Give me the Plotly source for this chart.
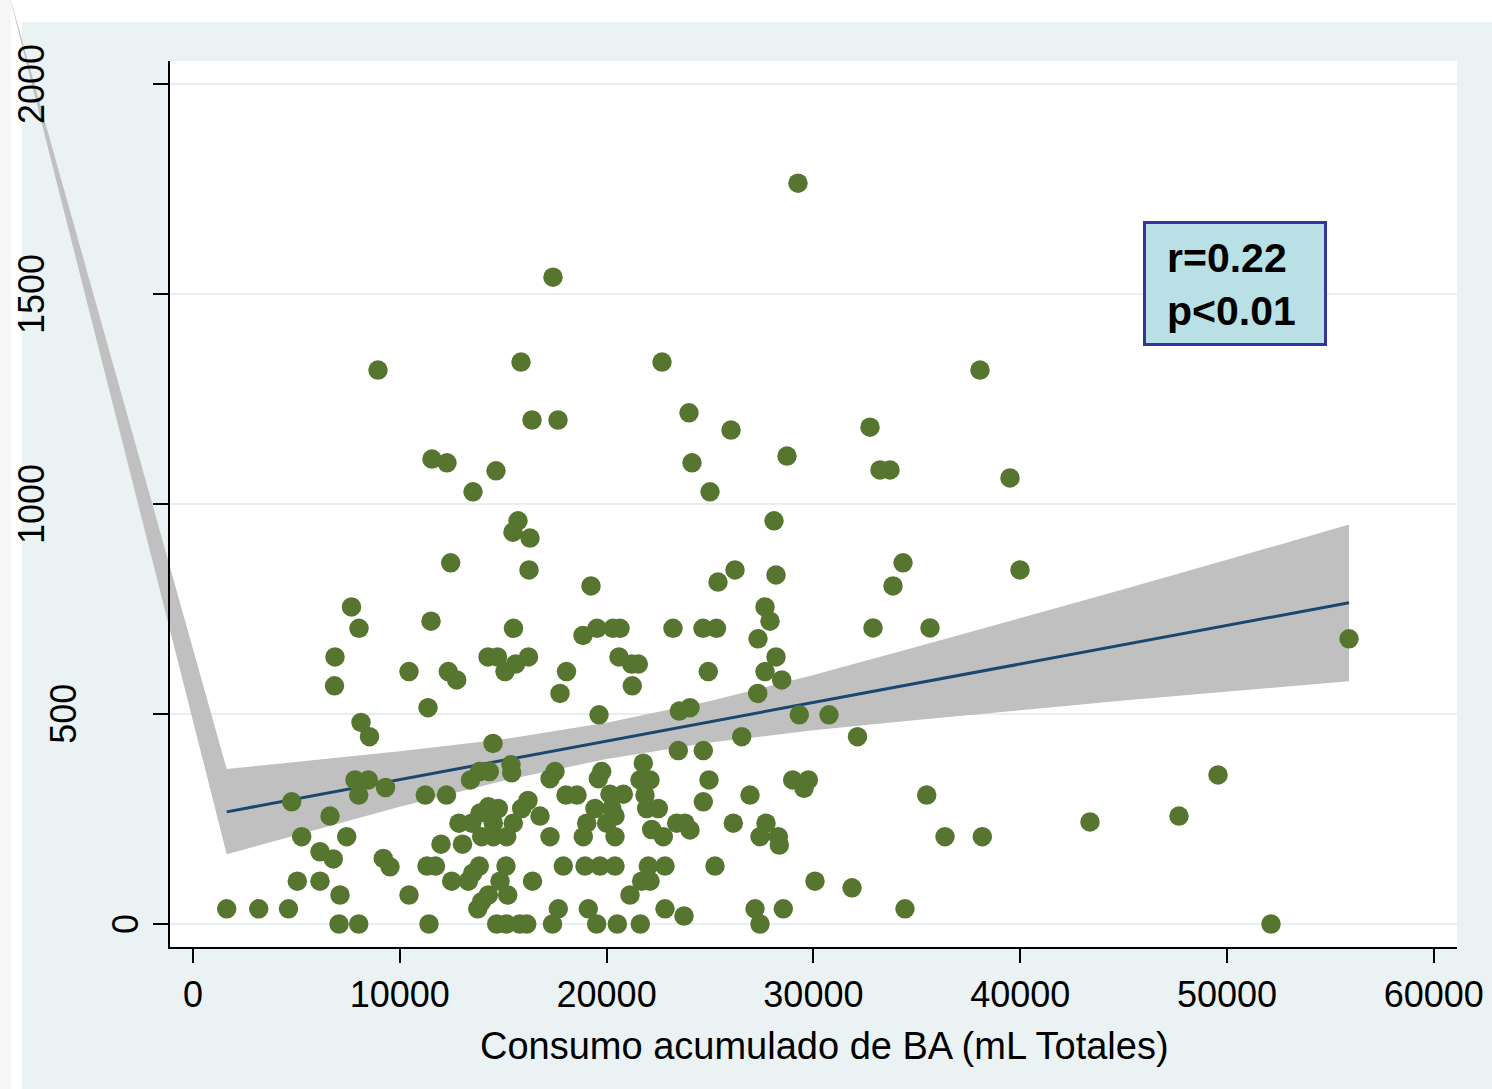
import plotly.graph_objects as go

# ---------------- data ----------------
consumo_ml = [
    29255, 17408, 8946, 15861, 22679, 38056, 23985, 16393, 17650, 32737,
    26016, 28723, 11557, 12282, 24130, 33221, 33704, 14652, 39507, 13540,
    25000, 15716, 28095, 15474, 16296,
    12461, 34333, 39990, 16248, 26209, 28192, 25387, 19246, 33849, 7664,
    27660, 11509, 27901, 8027, 15498, 19536, 20310, 20648, 23211, 24662,
    25314, 32882, 35638, 18859, 27321, 55900, 6867, 14265, 14724, 16223,
    20600, 28192,
    15595, 21214, 21533, 10445, 12345, 15087, 18061, 24918, 27660, 12751,
    28467, 6842, 21243, 17747, 27307, 11364, 24033, 23516, 19633, 29318,
    30754, 8124, 8535, 26533, 32133, 14507, 23467, 24676,
    15377, 21775, 13854, 14328, 15411, 17505, 19763, 49565, 7834, 8477,
    13419, 17263, 19599, 21615, 22099, 24952, 28999, 29753, 9309, 29546,
    8013, 11233, 12258, 18037, 18569, 20164, 20808, 21857, 26934, 35479,
    4773, 16199, 24676, 14280, 14763, 15895, 19439, 20247, 21939, 22500,
    13878, 6625, 16780, 20406, 47679, 12863, 13477, 14521, 15488, 19038,
    20005, 23390, 23791, 26127, 27708, 43375, 22181, 24033, 5256, 7432,
    13960, 14521, 15169, 17263, 18873, 20406, 22742, 27418, 28303, 36364,
    38167, 11992, 13032, 28351, 6141, 6784, 9202,
    9526, 11315, 11726, 13844, 15135, 17906, 18956, 19681, 20406, 22017,
    22824, 25242, 13525, 5044, 6141, 12510, 13312, 14845, 16417, 21697,
    22099, 30077, 31867, 7108, 10445, 14280, 15218, 21132, 13960, 1630,
    3177, 4618, 13772, 17665, 19115, 22824, 27176, 28545, 34429, 23743,
    7060, 8013, 11412, 14686, 15150, 15798, 16136, 17384, 19521, 20518,
    21630, 27418, 52128,
]
valor = [
    1764, 1540, 1319, 1338, 1338, 1319, 1217, 1200, 1200, 1183,
    1176, 1114, 1107, 1098, 1098, 1081, 1081, 1079, 1062, 1029,
    1029, 960, 960, 933, 919,
    860, 860, 843, 843, 843, 831, 814, 805, 805, 755,
    755, 721, 721, 704, 704, 704, 704, 704, 704, 704,
    704, 705, 705, 687, 679, 679, 636, 636, 636, 636,
    636, 636,
    619, 619, 619, 601, 601, 601, 601, 601, 601, 581,
    581, 567, 567, 549, 549, 515, 515, 507, 498, 498,
    498, 480, 446, 446, 446, 430, 413, 413,
    379, 383, 363, 363, 360, 363, 363, 355, 343, 343,
    343, 346, 346, 343, 343, 343, 343, 343, 325, 323,
    307, 307, 307, 307, 307, 309, 309, 307, 307, 307,
    291, 294, 291, 279, 275, 275, 275, 275, 275, 275,
    264, 257, 257, 257, 257, 240, 240, 240, 240, 240,
    240, 240, 240, 240, 240, 243, 225, 224, 208, 208,
    208, 208, 208, 208, 208, 208, 208, 208, 208, 208,
    208, 190, 190, 188, 172, 155, 156,
    136, 138, 138, 138, 138, 138, 138, 138, 138, 138,
    138, 138, 121, 102, 102, 102, 102, 102, 102, 102,
    102, 102, 86, 69, 69, 69, 69, 69, 53, 36,
    36, 36, 36, 36, 36, 36, 36, 36, 36, 19,
    0, 0, 0, 0, 0, 0, 0, 0, 0, 0,
    0, 0, 0,
]

# linear fit line
fit_x = [1630, 55900]
fit_y = [267, 765]

# confidence band of the fit
ci_x = [1630, 5000, 10000, 15000, 20000, 25000, 30000, 35000, 40000, 45000, 50000, 55900]
ci_upper = [369, 386, 411, 440, 479, 531, 593, 660, 728, 797, 867, 951]
ci_lower = [166, 212, 279, 341, 393, 432, 461, 486, 509, 532, 553, 578]
# stray vertex of the band polygon (drawing artifact visible in the source graph)
ci_stray_x = -8946
ci_stray_y = 2224

x_ticks = [0, 10000, 20000, 30000, 40000, 50000, 60000]
x_tick_labels = ["0", "10000", "20000", "30000", "40000", "50000", "60000"]
y_ticks = [0, 500, 1000, 1500, 2000]
y_tick_labels = ["0", "500", "1000", "1500", "2000"]

x_title = "Consumo acumulado de BA (mL Totales)"
stat_text = "<b>r=0.22</b><br><b>p&lt;0.01</b>"

# ---------------- layout geometry ----------------
W, H = 1492, 1089
FONT = "Liberation Sans, Arial, sans-serif"
xdom = [170 / W, 1457 / W]
ydom = [(H - 946.5) / H, (H - 61) / H]
xr = [-1112, 61122]
yr = [-53.6, 2054.8]


def extend(r, d):
    span = (r[1] - r[0]) / (d[1] - d[0])
    return [r[0] - d[0] * span, r[0] + (1 - d[0]) * span]


GREEN = "#56752f"
NAVY = "#1a476f"
BAND = "#c0c0c0"
BLUEBG = "#eaf2f3"
GRID = "#e6eff1"

fig = go.Figure()

# band polygon on a full-figure axis pair (so its stray part shows outside the plot area)
fig.add_trace(go.Scatter(
    x=ci_x + ci_x[::-1] + [ci_stray_x],
    y=ci_upper + ci_lower[::-1] + [ci_stray_y],
    xaxis="x", yaxis="y",
    mode="lines", fill="toself", fillcolor=BAND,
    line=dict(width=0, color=BAND), hoverinfo="skip", showlegend=False,
))

fig.add_trace(go.Scatter(
    x=fit_x, y=fit_y, xaxis="x2", yaxis="y2",
    mode="lines", line=dict(color=NAVY, width=3),
    hoverinfo="skip", showlegend=False,
))

fig.add_trace(go.Scatter(
    x=consumo_ml, y=valor, xaxis="x2", yaxis="y2",
    mode="markers", marker=dict(size=19.5, color=GREEN, line=dict(width=0)),
    showlegend=False,
))

shapes = [
    dict(type="rect", xref="paper", yref="paper", x0=0, x1=11 / W, y0=0, y1=1,
         fillcolor="#f6f6f6", line=dict(width=0), layer="below"),
    dict(type="rect", xref="paper", yref="paper", x0=22 / W, x1=1, y0=0, y1=1 - 22 / H,
         fillcolor=BLUEBG, line=dict(width=0), layer="below"),
    dict(type="rect", xref="paper", yref="paper", x0=xdom[0], x1=xdom[1], y0=ydom[0], y1=ydom[1],
         fillcolor="white", line=dict(width=0), layer="below"),
]
for v in y_ticks:
    shapes.append(dict(type="line", xref="paper", yref="y2", x0=xdom[0], x1=xdom[1], y0=v, y1=v,
                       line=dict(color=GRID, width=2.2), layer="below"))
# statistics box
shapes.append(dict(type="rect", xref="paper", yref="paper",
                   x0=1144.5 / W, x1=1325.5 / W, y0=1 - 344.5 / H, y1=1 - 222.5 / H,
                   fillcolor="#b9e0e4", line=dict(color="#34349c", width=3), layer="above"))

annotations = []
for v, lab in zip(y_ticks, y_tick_labels):
    annotations.append(dict(
        text=lab, xref="paper", yref="y2", x=(31 + (4 - len(lab)) * 31.7) / W, y=v,
        textangle=-90, showarrow=False, xanchor="center", yanchor="middle",
        font=dict(family=FONT, size=36, color="black"),
    ))
annotations.append(dict(
    text=x_title, xref="paper", yref="paper", x=824.5 / W, y=1 - 1046 / H,
    showarrow=False, xanchor="center", yanchor="middle",
    font=dict(family=FONT, size=38, color="black"),
))
annotations.append(dict(
    text=stat_text, xref="paper", yref="paper", x=1165 / W, y=1 - 284.5 / H,
    showarrow=False, xanchor="left", yanchor="middle", align="left",
    font=dict(family=FONT, size=41, color="black"),
))

fig.update_layout(
    width=W, height=H,
    margin=dict(l=0, r=0, t=0, b=0, pad=0),
    paper_bgcolor="white",
    plot_bgcolor="rgba(0,0,0,0)",
    showlegend=False,
    font=dict(family=FONT, color="black"),
    xaxis=dict(domain=[0, 1], range=extend(xr, xdom), visible=False, fixedrange=True),
    yaxis=dict(domain=[0, 1], range=extend(yr, ydom), visible=False, fixedrange=True),
    xaxis2=dict(
        domain=xdom, range=xr, anchor="y2",
        showline=True, linecolor="black", linewidth=1.6,
        ticks="outside", ticklen=15, tickwidth=1.6, tickcolor="black",
        tickvals=x_ticks, ticktext=x_tick_labels,
        tickfont=dict(family=FONT, size=36, color="black"),
        showgrid=False, zeroline=False, automargin=False, fixedrange=True,
    ),
    yaxis2=dict(
        domain=ydom, range=yr, anchor="x2",
        showline=True, linecolor="black", linewidth=1.6,
        ticks="outside", ticklen=15, tickwidth=1.6, tickcolor="black",
        tickvals=y_ticks, showticklabels=False,
        showgrid=False, zeroline=False, automargin=False, fixedrange=True,
    ),
    shapes=shapes,
    annotations=annotations,
)

fig.write_html("out.html", config={"displayModeBar": False},
               post_script="document.body.style.margin='0';")
